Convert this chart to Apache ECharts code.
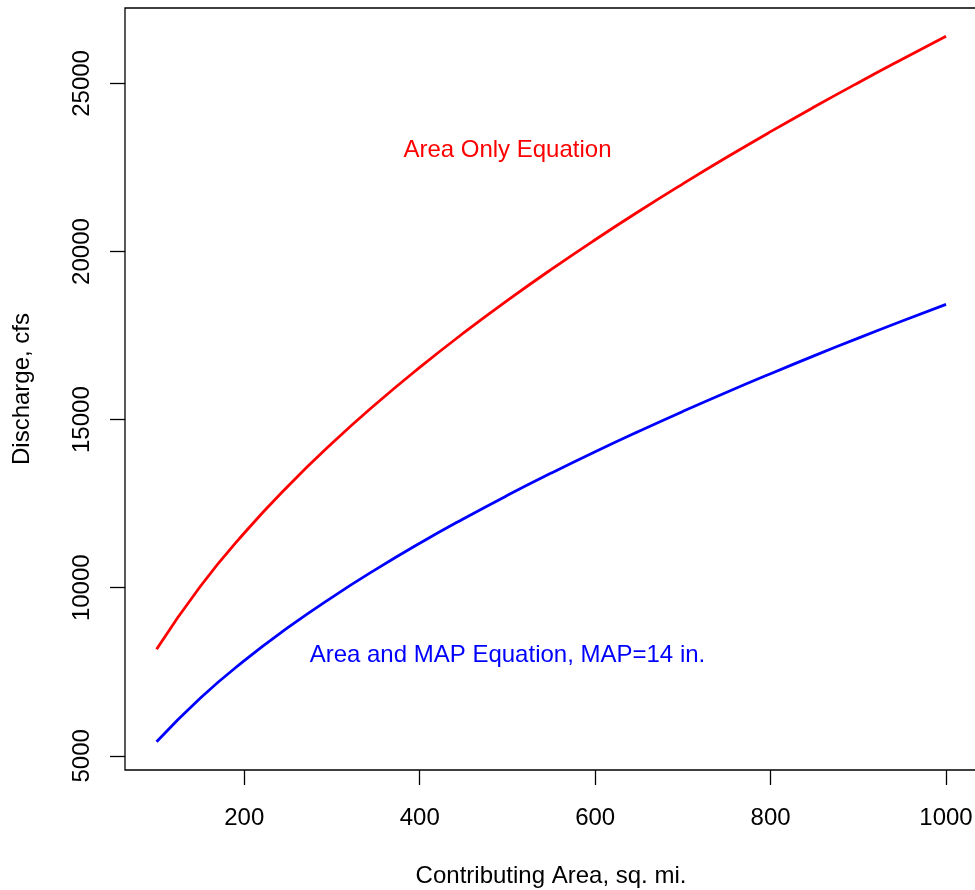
<!DOCTYPE html>
<html>
<head>
<meta charset="utf-8">
<script src="https://cdn.jsdelivr.net/npm/echarts@6/dist/echarts.min.js"></script>
<style>
  html, body { margin: 0; padding: 0; background: #fff; }
  #chart { width: 975px; height: 890px; }
</style>
</head>
<body>
<div id="chart"></div>
<script>
// Contributing drainage area, sq. mi.
const areas = [100, 150, 200, 250, 300, 350, 400, 450, 500, 550, 600,
               650, 700, 750, 800, 850, 900, 950, 1000];
// Discharge from the area-only regression, cfs
const areaOnlyQ = [8168, 10043, 11628, 13028, 14296, 15465, 16553, 17577, 18545, 19468, 20351,
                   21198, 22013, 22802, 23565, 24304, 25021, 25719, 26404];
// Discharge from the area + mean annual precipitation regression (MAP = 14 in.), cfs
const areaMapQ = [5417, 6720, 7831, 8818, 9715, 10545, 11322, 12052, 12747, 13409, 14045,
                  14655, 15244, 15814, 16365, 16903, 17424, 17932, 18426];

const xTicks = [200, 400, 600, 800, 1000];
const yTicks = [5000, 10000, 15000, 20000, 25000];

const xTitle = 'Contributing Area, sq. mi.';
const yTitle = 'Discharge, cfs';
const redNote = 'Area Only Equation';
const blueNote = 'Area and MAP Equation, MAP=14 in.';

const FONT = '"Liberation Sans", Arial, Helvetica, sans-serif';
const FS = 24;

const chart = echarts.init(document.getElementById('chart'), null, { renderer: 'canvas' });

const pairs = (xs, ys) => xs.map((x, i) => [x, ys[i]]);
const plain = v => String(v);

chart.setOption({
  animation: false,
  backgroundColor: '#ffffff',
  grid: {
    left: 125, top: 8, width: 852.6, height: 762,
    outerBoundsMode: 'none', containLabel: false,
    show: true, borderColor: '#000', borderWidth: 1.3, backgroundColor: 'transparent'
  },
  xAxis: {
    type: 'value', min: 64, max: 1036,
    splitLine: { show: false },
    axisLine: { show: false },
    axisTick: { show: true, customValues: xTicks, length: 15, lineStyle: { color: '#000', width: 1.3 } },
    axisLabel: { customValues: xTicks, formatter: plain, margin: 36, color: '#000', fontSize: FS, fontFamily: FONT,
                 showMinLabel: true, showMaxLabel: true, hideOverlap: false }
  },
  yAxis: {
    type: 'value', min: 4578, max: 27243,
    splitLine: { show: false },
    axisLine: { show: false },
    axisTick: { show: true, customValues: yTicks, length: 15, lineStyle: { color: '#000', width: 1.3 } },
    axisLabel: { customValues: yTicks, formatter: plain, margin: 31, rotate: 90, color: '#000', fontSize: FS, fontFamily: FONT,
                 showMinLabel: true, showMaxLabel: true, hideOverlap: false }
  },
  series: [
    {
      type: 'line', data: pairs(areas, areaOnlyQ), smooth: true, showSymbol: false,
      lineStyle: { color: '#ff0000', width: 2.8 }, itemStyle: { color: '#ff0000' },
      markPoint: {
        symbol: 'circle', symbolSize: 0,
        data: [{ coord: [500, 23000] }],
        label: { show: true, position: 'inside', formatter: redNote, color: '#ff0000',
                 fontSize: FS, fontFamily: FONT }
      }
    },
    {
      type: 'line', data: pairs(areas, areaMapQ), smooth: true, showSymbol: false,
      lineStyle: { color: '#0000ff', width: 2.8 }, itemStyle: { color: '#0000ff' },
      markPoint: {
        symbol: 'circle', symbolSize: 0,
        data: [{ coord: [500, 8000] }],
        label: { show: true, position: 'inside', formatter: blueNote, color: '#0000ff',
                 fontSize: FS, fontFamily: FONT }
      }
    }
  ],
  graphic: [
    { type: 'text', x: 551, y: 876,
      style: { text: xTitle, fill: '#000', font: FS + 'px ' + FONT, textAlign: 'center', textVerticalAlign: 'middle' } },
    { type: 'text', x: 22, y: 389, rotation: Math.PI / 2,
      style: { text: yTitle, fill: '#000', font: FS + 'px ' + FONT, textAlign: 'center', textVerticalAlign: 'middle' } }
  ]
});
</script>
</body>
</html>
